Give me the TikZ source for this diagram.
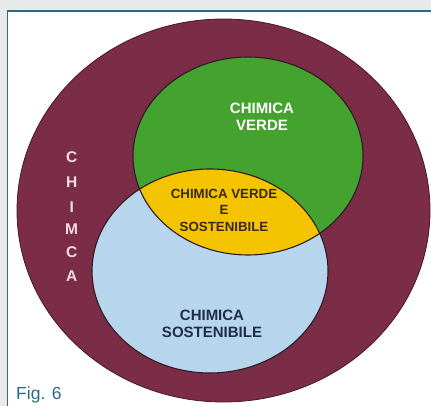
\documentclass[tikz,border=0pt]{standalone}
\usepackage{fontspec}
\setmainfont{Liberation Sans}
\definecolor{bggrey}{HTML}{E9E9EA}
\definecolor{panelborder}{HTML}{2A6A85}
\definecolor{maroon}{HTML}{7B2D47}
\definecolor{maroonedge}{HTML}{4A1528}
\definecolor{vgreen}{HTML}{44A22E}
\definecolor{lblue}{HTML}{B7D6EE}
\definecolor{vyellow}{HTML}{F5C400}
\definecolor{edge}{HTML}{2E1A22}
\definecolor{pinkwhite}{HTML}{F2DDE4}
\definecolor{darktext}{HTML}{3A2A10}
\definecolor{navytext}{HTML}{1E2D4A}
\tikzset{
  setlabel/.style={font=\bfseries\fontsize{15}{17.5}\selectfont, align=center, inner sep=0pt},
  midlabel/.style={font=\bfseries\fontsize{13.3}{16.5}\selectfont, align=center, inner sep=0pt, text=darktext},
  vletter/.style={font=\bfseries\fontsize{15.5}{16}\selectfont, text=pinkwhite, inner sep=0pt},
  venn/.style={draw=edge, line width=1.1pt}
}
\begin{document}
\begin{tikzpicture}[x=1pt,y=-1pt]
\useasboundingbox (0,0) rectangle (431,406);
\fill[bggrey] (0,0) rectangle (431,406);
\fill[white] (7.5,11) rectangle (431,406);
\draw[panelborder, line width=1.6pt] (7.5,406) -- (7.5,11) -- (431,11);
% outer set
\fill[maroon, draw=maroonedge, line width=0.8pt] (223.5,210.5) ellipse [x radius=206.5pt, y radius=191.5pt];
% green and blue sets
\fill[vgreen] (248,156) ellipse [x radius=115pt, y radius=99pt];
\fill[lblue] (210,271) ellipse [x radius=118pt, y radius=102pt];
\begin{scope}
  \clip (248,156) ellipse [x radius=115pt, y radius=99pt];
  \fill[vyellow] (210,271) ellipse [x radius=118pt, y radius=102pt];
\end{scope}
\draw[venn] (248,156) ellipse [x radius=115pt, y radius=99pt];
\draw[venn] (210,271) ellipse [x radius=118pt, y radius=102pt];
% labels
\node[setlabel, text=white] (verde) at (262,117) {CHIMICA\\VERDE};
\node[midlabel] (both) at (224,210) {CHIMICA VERDE\\E\\SOSTENIBILE};
\node[setlabel, text=navytext] (sost) at (212,324) {CHIMICA\\SOSTENIBILE};
\node[vletter] (l1) at (71.7,157) {C};
\node[vletter] (l2) at (71.7,182) {H};
\node[vletter] (l3) at (71.7,207) {I};
\node[vletter] (l4) at (71.7,229) {M};
\node[vletter] (l5) at (71.7,252) {C};
\node[vletter] (l6) at (71.7,276) {A};
\node[anchor=base west, inner sep=0pt, text=panelborder, font=\fontsize{17.5}{20}\selectfont] (fig) at (16,399) {Fig. 6};
\end{tikzpicture}
\end{document}
